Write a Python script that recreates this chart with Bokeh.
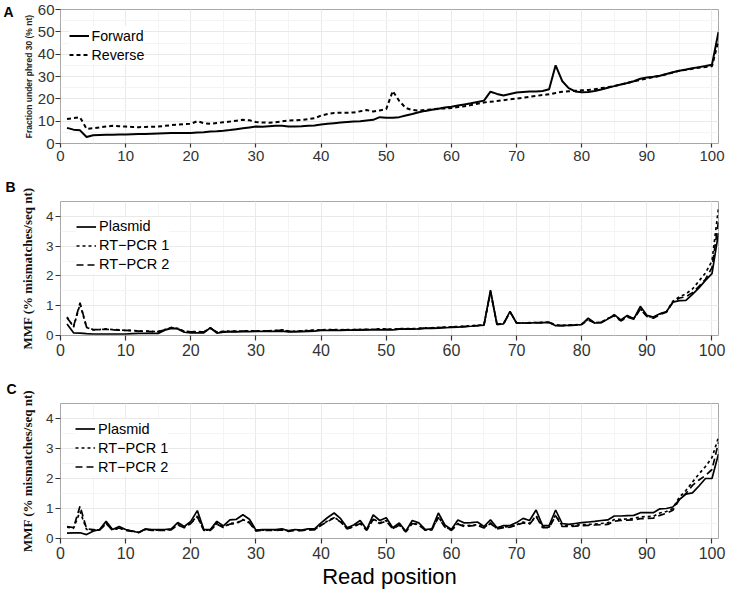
from bokeh.plotting import figure
from bokeh.layouts import column
from bokeh.models import (SingleIntervalTicker, FixedTicker, Legend, LegendItem,
                          Range1d, LinearAxis)
from bokeh.embed import file_html
from bokeh.resources import INLINE

positions = list(range(1, 102))

forward = [7.0, 6.2, 5.9, 2.9, 3.7, 3.8, 3.9, 3.9, 4.0, 4.0,
           4.1, 4.2, 4.3, 4.4, 4.5, 4.6, 4.7, 4.7, 4.7, 4.7,
           4.9, 5.0, 5.4, 5.5, 5.7, 6.0, 6.4, 6.8, 7.2, 7.6,
           7.5, 7.7, 7.9, 7.9, 7.6, 7.6, 7.7, 7.9, 8.1, 8.5,
           8.8, 9.1, 9.4, 9.6, 9.8, 10.0, 10.3, 10.6, 11.8, 11.5,
           11.5, 11.8, 12.5, 13.2, 14.0, 14.6, 15.1, 15.6, 16.1, 16.5,
           17.0, 17.5, 18.0, 18.6, 19.2, 23.2, 22.2, 21.5, 22.2, 22.8,
           23.1, 23.3, 23.3, 23.5, 24.3, 35.0, 28.0, 24.8, 23.3, 22.9,
           23.1, 23.5, 24.2, 25.0, 25.7, 26.4, 27.1, 27.9, 29.0, 29.6,
           29.9, 30.3, 31.1, 31.9, 32.6, 33.1, 33.7, 34.2, 34.7, 35.3,
           50.0]
reverse = [11.0, 11.4, 11.7, 6.6, 6.8, 7.2, 7.6, 7.9, 7.7, 7.6,
           7.4, 7.3, 7.4, 7.5, 7.6, 7.9, 8.2, 8.5, 8.7, 8.8,
           10.0, 9.1, 8.8, 9.2, 9.5, 9.8, 10.2, 10.6, 10.4, 9.6,
           9.4, 9.3, 9.5, 9.9, 10.3, 10.4, 10.6, 10.9, 11.3, 12.5,
           13.2, 13.7, 13.8, 13.8, 13.9, 14.4, 15.0, 14.3, 14.8, 15.4,
           23.5, 19.0, 15.9, 15.0, 14.7, 15.0, 15.3, 15.6, 15.7, 15.9,
           16.3, 16.7, 17.2, 17.8, 18.4, 18.7, 19.0, 19.4, 19.8, 20.1,
           20.5, 20.9, 21.3, 21.7, 22.0, 22.6, 23.2, 23.4, 23.6, 23.8,
           24.0, 24.3, 24.8, 25.2, 25.7, 26.4, 27.1, 27.8, 28.5, 29.1,
           29.7, 30.3, 31.0, 31.8, 32.6, 33.0, 33.5, 33.9, 34.3, 34.6,
           46.0]

b_plasmid = [0.39, 0.09, 0.08, 0.06, 0.05, 0.05, 0.05, 0.05, 0.05, 0.05,
             0.06, 0.07, 0.07, 0.07, 0.07, 0.18, 0.24, 0.22, 0.11, 0.09,
             0.09, 0.09, 0.26, 0.08, 0.11, 0.12, 0.12, 0.13, 0.13, 0.14,
             0.14, 0.14, 0.14, 0.15, 0.12, 0.12, 0.13, 0.14, 0.15, 0.17,
             0.17, 0.17, 0.17, 0.18, 0.18, 0.18, 0.19, 0.19, 0.19, 0.20,
             0.19, 0.21, 0.22, 0.21, 0.22, 0.24, 0.24, 0.25, 0.26, 0.27,
             0.28, 0.30, 0.31, 0.33, 0.35, 1.52, 0.37, 0.39, 0.81, 0.42,
             0.42, 0.42, 0.43, 0.43, 0.44, 0.33, 0.33, 0.34, 0.35, 0.37,
             0.58, 0.42, 0.43, 0.55, 0.70, 0.52, 0.67, 0.56, 0.98, 0.68,
             0.62, 0.73, 0.80, 1.12, 1.17, 1.18, 1.38, 1.60, 1.85, 2.08,
             3.44]
b_rt1 = [0.62, 0.28, 1.05, 0.27, 0.19, 0.20, 0.22, 0.20, 0.19, 0.17,
         0.17, 0.15, 0.15, 0.14, 0.13, 0.20, 0.27, 0.24, 0.14, 0.13,
         0.13, 0.12, 0.24, 0.12, 0.14, 0.15, 0.15, 0.15, 0.16, 0.16,
         0.16, 0.16, 0.17, 0.19, 0.15, 0.15, 0.16, 0.17, 0.18, 0.19,
         0.20, 0.20, 0.19, 0.20, 0.20, 0.21, 0.21, 0.21, 0.22, 0.22,
         0.21, 0.23, 0.23, 0.23, 0.24, 0.26, 0.26, 0.27, 0.28, 0.29,
         0.30, 0.31, 0.33, 0.34, 0.36, 1.45, 0.38, 0.40, 0.78, 0.43,
         0.42, 0.43, 0.43, 0.44, 0.45, 0.35, 0.34, 0.35, 0.36, 0.38,
         0.55, 0.43, 0.45, 0.57, 0.68, 0.50, 0.64, 0.58, 0.90, 0.66,
         0.60, 0.72, 0.80, 1.15, 1.30, 1.40, 1.56, 1.83, 2.10, 2.50,
         4.28]
b_rt2 = [0.60, 0.30, 1.10, 0.28, 0.20, 0.20, 0.21, 0.19, 0.18, 0.17,
         0.16, 0.15, 0.14, 0.13, 0.13, 0.19, 0.26, 0.23, 0.13, 0.12,
         0.12, 0.12, 0.25, 0.11, 0.13, 0.14, 0.14, 0.15, 0.15, 0.15,
         0.15, 0.16, 0.16, 0.18, 0.14, 0.14, 0.15, 0.16, 0.17, 0.18,
         0.19, 0.19, 0.19, 0.19, 0.19, 0.20, 0.20, 0.21, 0.21, 0.21,
         0.20, 0.22, 0.22, 0.22, 0.23, 0.25, 0.25, 0.26, 0.27, 0.28,
         0.29, 0.30, 0.32, 0.33, 0.35, 1.48, 0.37, 0.39, 0.79, 0.42,
         0.41, 0.42, 0.42, 0.43, 0.44, 0.34, 0.33, 0.34, 0.35, 0.37,
         0.52, 0.42, 0.44, 0.56, 0.66, 0.49, 0.62, 0.55, 0.88, 0.64,
         0.58, 0.70, 0.78, 1.12, 1.26, 1.30, 1.44, 1.65, 1.89, 2.28,
         3.83]

c_plasmid = [0.18, 0.19, 0.19, 0.13, 0.24, 0.30, 0.57, 0.30, 0.40, 0.30,
             0.25, 0.20, 0.32, 0.30, 0.30, 0.30, 0.32, 0.53, 0.40, 0.57,
             0.93, 0.30, 0.30, 0.57, 0.42, 0.62, 0.64, 0.79, 0.64, 0.28,
             0.30, 0.30, 0.30, 0.32, 0.26, 0.30, 0.28, 0.32, 0.32, 0.52,
             0.70, 0.85, 0.66, 0.36, 0.45, 0.60, 0.30, 0.79, 0.60, 0.69,
             0.36, 0.52, 0.24, 0.60, 0.52, 0.30, 0.32, 0.85, 0.45, 0.30,
             0.62, 0.52, 0.53, 0.55, 0.40, 0.62, 0.36, 0.43, 0.43, 0.53,
             0.67, 0.60, 0.95, 0.43, 0.43, 0.95, 0.50, 0.47, 0.50, 0.53,
             0.55, 0.57, 0.60, 0.62, 0.75, 0.75, 0.76, 0.77, 0.86, 0.86,
             0.86, 0.99, 1.00, 1.05, 1.30, 1.48, 1.52, 1.75, 2.00, 2.00,
             2.82]
c_rt1 = [0.38, 0.34, 0.90, 0.30, 0.28, 0.28, 0.50, 0.28, 0.36, 0.28,
         0.25, 0.20, 0.30, 0.28, 0.28, 0.28, 0.30, 0.47, 0.37, 0.52,
         0.75, 0.28, 0.28, 0.50, 0.38, 0.50, 0.52, 0.63, 0.54, 0.26,
         0.28, 0.28, 0.28, 0.30, 0.25, 0.28, 0.27, 0.30, 0.30, 0.45,
         0.58, 0.70, 0.57, 0.33, 0.40, 0.52, 0.28, 0.66, 0.52, 0.60,
         0.33, 0.46, 0.23, 0.52, 0.46, 0.28, 0.30, 0.72, 0.40, 0.28,
         0.50, 0.42, 0.44, 0.46, 0.37, 0.52, 0.33, 0.38, 0.40, 0.46,
         0.55, 0.50, 0.76, 0.38, 0.38, 0.78, 0.43, 0.42, 0.44, 0.46,
         0.47, 0.48, 0.50, 0.52, 0.63, 0.64, 0.65, 0.67, 0.72, 0.73,
         0.74, 0.85, 0.90, 1.00, 1.38, 1.60, 1.88, 2.15, 2.40, 2.70,
         3.37]
c_rt2 = [0.40, 0.36, 1.08, 0.32, 0.30, 0.28, 0.50, 0.27, 0.35, 0.27,
         0.24, 0.20, 0.30, 0.27, 0.27, 0.27, 0.29, 0.45, 0.36, 0.50,
         0.73, 0.27, 0.27, 0.48, 0.37, 0.48, 0.50, 0.62, 0.52, 0.25,
         0.27, 0.27, 0.27, 0.29, 0.24, 0.27, 0.26, 0.29, 0.29, 0.44,
         0.56, 0.69, 0.55, 0.32, 0.39, 0.50, 0.27, 0.64, 0.50, 0.58,
         0.32, 0.45, 0.22, 0.50, 0.45, 0.27, 0.29, 0.70, 0.38, 0.27,
         0.48, 0.40, 0.42, 0.44, 0.35, 0.50, 0.32, 0.36, 0.38, 0.44,
         0.52, 0.48, 0.74, 0.36, 0.36, 0.76, 0.40, 0.40, 0.41, 0.43,
         0.44, 0.45, 0.46, 0.47, 0.58, 0.60, 0.61, 0.62, 0.66, 0.67,
         0.68, 0.77, 0.84, 0.94, 1.30, 1.50, 1.77, 1.95, 2.10, 2.30,
         3.20]

SANS = "Liberation Sans"
SERIF = "Liberation Serif"
W = 737


def base_fig(height, top, bottom, left, right, ymax, yint):
    p = figure(width=W, height=height, x_range=Range1d(0, 101), y_range=Range1d(0, ymax),
               output_backend="svg", toolbar_location=None,
               min_border_top=top, min_border_bottom=bottom,
               min_border_left=left, min_border_right=right)
    p.outline_line_color = "#a8a8a8"
    p.outline_line_width = 1
    p.xaxis.ticker = SingleIntervalTicker(interval=10, num_minor_ticks=2)
    p.yaxis.ticker = SingleIntervalTicker(interval=yint, num_minor_ticks=2)
    for g in (p.xgrid, p.ygrid):
        g.grid_line_color = "#e9e9e9"
        g.grid_line_width = 1
        g.minor_grid_line_color = "#f4f4f4"
        g.minor_grid_line_width = 1
    for ax in (p.xaxis[0], p.yaxis[0]):
        ax.axis_line_color = None
        ax.major_tick_line_color = "#333333"
        ax.major_tick_line_width = 1.2
        ax.minor_tick_line_color = None
        ax.major_tick_in = 0
        ax.major_tick_out = 5
        ax.major_label_text_font = SANS
        ax.major_label_text_color = "#333333"
    p.background_fill_color = "white"
    return p


def add_legend(p, items, loc, size):
    lg = Legend(items=[LegendItem(label=l, renderers=[r]) for l, r in items])
    lg.location = loc
    lg.background_fill_color = "white"
    lg.background_fill_alpha = 1
    lg.border_line_color = None
    lg.padding = 6
    lg.margin = 0
    lg.spacing = 0
    lg.glyph_width = 20
    lg.glyph_height = 19
    lg.label_height = 19
    lg.label_standoff = 3
    lg.label_text_font = SANS
    lg.label_text_font_size = size
    lg.label_text_color = "black"
    p.add_layout(lg)


def panel_title(p, txt, offset):
    p.title.text = txt
    p.title.align = "left"
    p.title.offset = offset
    p.title.text_font = SANS
    p.title.text_font_size = "14px"
    p.title.text_font_style = "bold"
    p.title.text_color = "black"
    p.title.standoff = 13


# ---- Panel A ----
pa = base_fig(168, 9, 25, 55, 19, 60, 10)
fa_h = 134
pa.xaxis[0].major_label_text_font_size = "15px"
pa.yaxis[0].major_label_text_font_size = "15px"
pa.xaxis[0].major_tick_out = 4
pa.xaxis[0].major_label_standoff = 3
pa.yaxis[0].major_label_standoff = 1
pa.yaxis[0].axis_label = "Fraction under phred 30 (% nt)"
pa.yaxis[0].axis_label_text_font = SANS
pa.yaxis[0].axis_label_text_font_size = "8.5px"
pa.yaxis[0].axis_label_text_font_style = "bold"
pa.yaxis[0].axis_label_text_color = "#222222"
pa.yaxis[0].axis_label_standoff = 1
tag_a = LinearAxis(ticker=FixedTicker(ticks=[59]), major_label_overrides={59: "A"})
tag_a.axis_line_color = None
tag_a.major_tick_line_color = None
tag_a.minor_tick_line_color = None
tag_a.major_tick_in = 0
tag_a.major_tick_out = 0
tag_a.major_label_standoff = 7
tag_a.major_label_text_font = SANS
tag_a.major_label_text_font_size = "14px"
tag_a.major_label_text_font_style = "bold"
tag_a.major_label_text_color = "black"
pa.add_layout(tag_a, "left")
ra1 = pa.line(positions, forward, line_color="black", line_width=2)
ra2 = pa.line(positions, reverse, line_color="black", line_width=2, line_dash="4 3")
add_legend(pa, [("Forward", ra1), ("Reverse", ra2)], (8.5, fa_h - 16.5 - 38 - 6 + 5.5), "14.2px")

# ---- Panel B ----
pb = base_fig(202, 33, 35, 58, 14, 4.5, 1)
fb_h = 134
pb.xaxis[0].major_label_text_font_size = "16px"
pb.yaxis[0].major_label_text_font_size = "13.5px"
pb.xaxis[0].major_label_standoff = 3
pb.yaxis[0].major_label_standoff = 2
pb.yaxis[0].axis_label = "MMF (% mismatches/seq nt)"
pb.yaxis[0].axis_label_text_font = SERIF
pb.yaxis[0].axis_label_text_font_size = "13px"
pb.yaxis[0].axis_label_text_font_style = "bold"
pb.yaxis[0].axis_label_text_color = "#111111"
pb.yaxis[0].axis_label_standoff = 8
panel_title(pb, "B", -55)
rb1 = pb.line(positions, b_plasmid, line_color="black", line_width=1.7)
rb2 = pb.line(positions, b_rt1, line_color="black", line_width=1.7, line_dash="3 3")
rb3 = pb.line(positions, b_rt2, line_color="black", line_width=1.7, line_dash="7 4")
add_legend(pb, [("Plasmid", rb1), ("RT\u2212PCR 1", rb2), ("RT\u2212PCR 2", rb3)],
           (16, fb_h - 15 - 57 - 6 + 5.5), "14.5px")

# ---- Panel C ----
pc = base_fig(224, 33, 56, 57, 9, 4.5, 1)
fc_h = 135
pc.xaxis[0].major_label_text_font_size = "16px"
pc.yaxis[0].major_label_text_font_size = "13.5px"
pc.xaxis[0].major_label_standoff = 3
pc.yaxis[0].major_label_standoff = 2
pc.yaxis[0].axis_label = "MMF (% mismatches/seq nt)"
pc.yaxis[0].axis_label_text_font = SERIF
pc.yaxis[0].axis_label_text_font_size = "13px"
pc.yaxis[0].axis_label_text_font_style = "bold"
pc.yaxis[0].axis_label_text_color = "#111111"
pc.yaxis[0].axis_label_standoff = 8
pc.xaxis[0].axis_label = "Read position"
pc.xaxis[0].axis_label_text_font = SANS
pc.xaxis[0].axis_label_text_font_size = "22px"
pc.xaxis[0].axis_label_text_font_style = "normal"
pc.xaxis[0].axis_label_text_color = "black"
pc.xaxis[0].axis_label_standoff = 2
panel_title(pc, "C", -54)
rc1 = pc.line(positions, c_plasmid, line_color="black", line_width=1.7)
rc2 = pc.line(positions, c_rt1, line_color="black", line_width=1.7, line_dash="3 3")
rc3 = pc.line(positions, c_rt2, line_color="black", line_width=1.7, line_dash="7 4")
add_legend(pc, [("Plasmid", rc1), ("RT\u2212PCR 1", rc2), ("RT\u2212PCR 2", rc3)],
           (15, fc_h - 15.5 - 57 - 6 + 5.5), "14.5px")

layout = column(pa, pb, pc, spacing=0)
open("out.html", "w").write(file_html(layout, INLINE))
